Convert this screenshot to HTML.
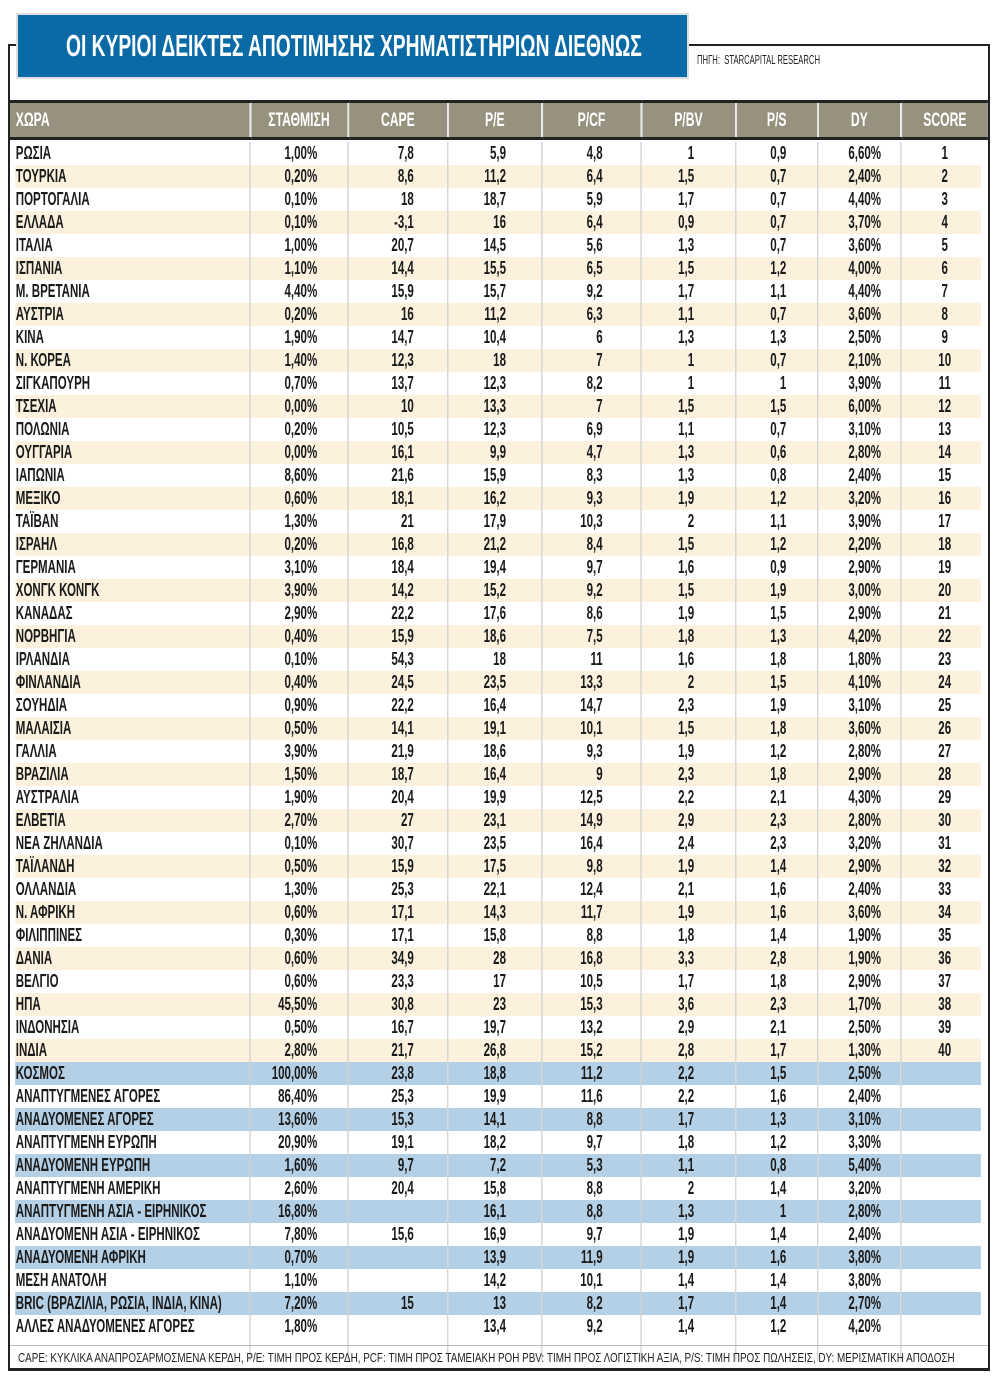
<!DOCTYPE html>
<html><head><meta charset="utf-8"><style>
*{margin:0;padding:0;box-sizing:border-box}
body{width:1000px;height:1381px;background:#fff;position:relative;overflow:hidden;font-family:"Liberation Sans",sans-serif;font-weight:bold;color:#1a1a1a}
.frame{position:absolute;left:8px;top:44px;width:982px;height:1327px;border:2px solid #222;border-bottom:3px solid #222}
.title{position:absolute;left:16px;top:13px;width:673px;height:66px;background:#0a6aa6;border:2px solid #ddd;color:#fff;font-size:31px;line-height:62px;padding-left:48px;white-space:nowrap;overflow:hidden}
.title span{display:inline-block;transform:scaleX(0.62);transform-origin:0 50%}
.src{position:absolute;left:697px;top:52px;font-size:13px;font-weight:normal;color:#222;white-space:nowrap;transform:scaleX(0.59);transform-origin:0 0}
table{position:absolute;left:10px;top:100px;border-collapse:collapse;table-layout:fixed;width:1528px;transform:scaleX(0.64);transform-origin:0 0}
td{height:23px;font-size:18px;text-align:right;border-left:2px solid #d0d0d0;line-height:23px;white-space:nowrap;overflow:hidden}
td:first-child{border-left:none;text-align:left;padding-left:9px}
tr.h td{height:37px;background:#97927f;color:#fff;border-left:3px solid #e6e6e6;text-align:center;font-size:19px;border-top:3px solid #222;border-bottom:3px solid #222}
tr.h td:first-child{border-left:none;text-align:left}
td.c1{padding-right:47px}td.c2{padding-right:52px}td.c3{padding-right:55px}td.c4{padding-right:59px}td.c5{padding-right:64px}td.c6{padding-right:48px}td.c7{padding-right:30px}td.c8{text-align:center;padding-left:0}
tr.y td{background:#fcf1dc}
tr.b td{background:#b4d0e6}
tr.y td:first-child,tr.b td:first-child{box-shadow:inset 8px 0 0 #fff}
tr.y td:last-child,tr.b td:last-child{box-shadow:inset -11px 0 0 #fff}
.foot{position:absolute;left:10px;top:1345px;width:978px;border-top:1px solid #bbb;font-size:13px;font-weight:normal;padding-top:4px;color:#222;white-space:nowrap}
.foot span{display:inline-block;margin-left:8px;transform:scaleX(0.76);transform-origin:0 0}
</style></head><body>
<div class="frame"></div>
<div class="title"><span>ΟΙ ΚΥΡΙΟΙ ΔΕΙΚΤΕΣ ΑΠΟΤΙΜΗΣΗΣ ΧΡΗΜΑΤΙΣΤΗΡΙΩΝ ΔΙΕΘΝΩΣ</span></div>
<div class="src">ΠΗΓΗ:&nbsp; STARCAPITAL RESEARCH</div>
<table>
<colgroup><col style="width:375px"><col style="width:153px"><col style="width:156px"><col style="width:147px"><col style="width:155px"><col style="width:148px"><col style="width:128px"><col style="width:130px"><col style="width:136px"></colgroup>
<tr class="h"><td>ΧΩΡΑ</td><td>ΣΤΑΘΜΙΣΗ</td><td>CAPE</td><td>P/E</td><td>P/CF</td><td>P/BV</td><td>P/S</td><td>DY</td><td>SCORE</td></tr>
<tr style="height:3px"><td colspan="9" style="height:3px;border:none"></td></tr>
<tr><td>ΡΩΣΙΑ</td><td class="c1">1,00%</td><td class="c2">7,8</td><td class="c3">5,9</td><td class="c4">4,8</td><td class="c5">1</td><td class="c6">0,9</td><td class="c7">6,60%</td><td class="c8">1</td></tr>
<tr class="y"><td>ΤΟΥΡΚΙΑ</td><td class="c1">0,20%</td><td class="c2">8,6</td><td class="c3">11,2</td><td class="c4">6,4</td><td class="c5">1,5</td><td class="c6">0,7</td><td class="c7">2,40%</td><td class="c8">2</td></tr>
<tr><td>ΠΟΡΤΟΓΑΛΙΑ</td><td class="c1">0,10%</td><td class="c2">18</td><td class="c3">18,7</td><td class="c4">5,9</td><td class="c5">1,7</td><td class="c6">0,7</td><td class="c7">4,40%</td><td class="c8">3</td></tr>
<tr class="y"><td>ΕΛΛΑΔΑ</td><td class="c1">0,10%</td><td class="c2">-3,1</td><td class="c3">16</td><td class="c4">6,4</td><td class="c5">0,9</td><td class="c6">0,7</td><td class="c7">3,70%</td><td class="c8">4</td></tr>
<tr><td>ΙΤΑΛΙΑ</td><td class="c1">1,00%</td><td class="c2">20,7</td><td class="c3">14,5</td><td class="c4">5,6</td><td class="c5">1,3</td><td class="c6">0,7</td><td class="c7">3,60%</td><td class="c8">5</td></tr>
<tr class="y"><td>ΙΣΠΑΝΙΑ</td><td class="c1">1,10%</td><td class="c2">14,4</td><td class="c3">15,5</td><td class="c4">6,5</td><td class="c5">1,5</td><td class="c6">1,2</td><td class="c7">4,00%</td><td class="c8">6</td></tr>
<tr><td>Μ. ΒΡΕΤΑΝΙΑ</td><td class="c1">4,40%</td><td class="c2">15,9</td><td class="c3">15,7</td><td class="c4">9,2</td><td class="c5">1,7</td><td class="c6">1,1</td><td class="c7">4,40%</td><td class="c8">7</td></tr>
<tr class="y"><td>ΑΥΣΤΡΙΑ</td><td class="c1">0,20%</td><td class="c2">16</td><td class="c3">11,2</td><td class="c4">6,3</td><td class="c5">1,1</td><td class="c6">0,7</td><td class="c7">3,60%</td><td class="c8">8</td></tr>
<tr><td>ΚΙΝΑ</td><td class="c1">1,90%</td><td class="c2">14,7</td><td class="c3">10,4</td><td class="c4">6</td><td class="c5">1,3</td><td class="c6">1,3</td><td class="c7">2,50%</td><td class="c8">9</td></tr>
<tr class="y"><td>Ν. ΚΟΡΕΑ</td><td class="c1">1,40%</td><td class="c2">12,3</td><td class="c3">18</td><td class="c4">7</td><td class="c5">1</td><td class="c6">0,7</td><td class="c7">2,10%</td><td class="c8">10</td></tr>
<tr><td>ΣΙΓΚΑΠΟΥΡΗ</td><td class="c1">0,70%</td><td class="c2">13,7</td><td class="c3">12,3</td><td class="c4">8,2</td><td class="c5">1</td><td class="c6">1</td><td class="c7">3,90%</td><td class="c8">11</td></tr>
<tr class="y"><td>ΤΣΕΧΙΑ</td><td class="c1">0,00%</td><td class="c2">10</td><td class="c3">13,3</td><td class="c4">7</td><td class="c5">1,5</td><td class="c6">1,5</td><td class="c7">6,00%</td><td class="c8">12</td></tr>
<tr><td>ΠΟΛΩΝΙΑ</td><td class="c1">0,20%</td><td class="c2">10,5</td><td class="c3">12,3</td><td class="c4">6,9</td><td class="c5">1,1</td><td class="c6">0,7</td><td class="c7">3,10%</td><td class="c8">13</td></tr>
<tr class="y"><td>ΟΥΓΓΑΡΙΑ</td><td class="c1">0,00%</td><td class="c2">16,1</td><td class="c3">9,9</td><td class="c4">4,7</td><td class="c5">1,3</td><td class="c6">0,6</td><td class="c7">2,80%</td><td class="c8">14</td></tr>
<tr><td>ΙΑΠΩΝΙΑ</td><td class="c1">8,60%</td><td class="c2">21,6</td><td class="c3">15,9</td><td class="c4">8,3</td><td class="c5">1,3</td><td class="c6">0,8</td><td class="c7">2,40%</td><td class="c8">15</td></tr>
<tr class="y"><td>ΜΕΞΙΚΟ</td><td class="c1">0,60%</td><td class="c2">18,1</td><td class="c3">16,2</td><td class="c4">9,3</td><td class="c5">1,9</td><td class="c6">1,2</td><td class="c7">3,20%</td><td class="c8">16</td></tr>
<tr><td>ΤΑΪΒΑΝ</td><td class="c1">1,30%</td><td class="c2">21</td><td class="c3">17,9</td><td class="c4">10,3</td><td class="c5">2</td><td class="c6">1,1</td><td class="c7">3,90%</td><td class="c8">17</td></tr>
<tr class="y"><td>ΙΣΡΑΗΛ</td><td class="c1">0,20%</td><td class="c2">16,8</td><td class="c3">21,2</td><td class="c4">8,4</td><td class="c5">1,5</td><td class="c6">1,2</td><td class="c7">2,20%</td><td class="c8">18</td></tr>
<tr><td>ΓΕΡΜΑΝΙΑ</td><td class="c1">3,10%</td><td class="c2">18,4</td><td class="c3">19,4</td><td class="c4">9,7</td><td class="c5">1,6</td><td class="c6">0,9</td><td class="c7">2,90%</td><td class="c8">19</td></tr>
<tr class="y"><td>ΧΟΝΓΚ ΚΟΝΓΚ</td><td class="c1">3,90%</td><td class="c2">14,2</td><td class="c3">15,2</td><td class="c4">9,2</td><td class="c5">1,5</td><td class="c6">1,9</td><td class="c7">3,00%</td><td class="c8">20</td></tr>
<tr><td>ΚΑΝΑΔΑΣ</td><td class="c1">2,90%</td><td class="c2">22,2</td><td class="c3">17,6</td><td class="c4">8,6</td><td class="c5">1,9</td><td class="c6">1,5</td><td class="c7">2,90%</td><td class="c8">21</td></tr>
<tr class="y"><td>ΝΟΡΒΗΓΙΑ</td><td class="c1">0,40%</td><td class="c2">15,9</td><td class="c3">18,6</td><td class="c4">7,5</td><td class="c5">1,8</td><td class="c6">1,3</td><td class="c7">4,20%</td><td class="c8">22</td></tr>
<tr><td>ΙΡΛΑΝΔΙΑ</td><td class="c1">0,10%</td><td class="c2">54,3</td><td class="c3">18</td><td class="c4">11</td><td class="c5">1,6</td><td class="c6">1,8</td><td class="c7">1,80%</td><td class="c8">23</td></tr>
<tr class="y"><td>ΦΙΝΛΑΝΔΙΑ</td><td class="c1">0,40%</td><td class="c2">24,5</td><td class="c3">23,5</td><td class="c4">13,3</td><td class="c5">2</td><td class="c6">1,5</td><td class="c7">4,10%</td><td class="c8">24</td></tr>
<tr><td>ΣΟΥΗΔΙΑ</td><td class="c1">0,90%</td><td class="c2">22,2</td><td class="c3">16,4</td><td class="c4">14,7</td><td class="c5">2,3</td><td class="c6">1,9</td><td class="c7">3,10%</td><td class="c8">25</td></tr>
<tr class="y"><td>ΜΑΛΑΙΣΙΑ</td><td class="c1">0,50%</td><td class="c2">14,1</td><td class="c3">19,1</td><td class="c4">10,1</td><td class="c5">1,5</td><td class="c6">1,8</td><td class="c7">3,60%</td><td class="c8">26</td></tr>
<tr><td>ΓΑΛΛΙΑ</td><td class="c1">3,90%</td><td class="c2">21,9</td><td class="c3">18,6</td><td class="c4">9,3</td><td class="c5">1,9</td><td class="c6">1,2</td><td class="c7">2,80%</td><td class="c8">27</td></tr>
<tr class="y"><td>ΒΡΑΖΙΛΙΑ</td><td class="c1">1,50%</td><td class="c2">18,7</td><td class="c3">16,4</td><td class="c4">9</td><td class="c5">2,3</td><td class="c6">1,8</td><td class="c7">2,90%</td><td class="c8">28</td></tr>
<tr><td>ΑΥΣΤΡΑΛΙΑ</td><td class="c1">1,90%</td><td class="c2">20,4</td><td class="c3">19,9</td><td class="c4">12,5</td><td class="c5">2,2</td><td class="c6">2,1</td><td class="c7">4,30%</td><td class="c8">29</td></tr>
<tr class="y"><td>ΕΛΒΕΤΙΑ</td><td class="c1">2,70%</td><td class="c2">27</td><td class="c3">23,1</td><td class="c4">14,9</td><td class="c5">2,9</td><td class="c6">2,3</td><td class="c7">2,80%</td><td class="c8">30</td></tr>
<tr><td>ΝΕΑ ΖΗΛΑΝΔΙΑ</td><td class="c1">0,10%</td><td class="c2">30,7</td><td class="c3">23,5</td><td class="c4">16,4</td><td class="c5">2,4</td><td class="c6">2,3</td><td class="c7">3,20%</td><td class="c8">31</td></tr>
<tr class="y"><td>ΤΑΪΛΑΝΔΗ</td><td class="c1">0,50%</td><td class="c2">15,9</td><td class="c3">17,5</td><td class="c4">9,8</td><td class="c5">1,9</td><td class="c6">1,4</td><td class="c7">2,90%</td><td class="c8">32</td></tr>
<tr><td>ΟΛΛΑΝΔΙΑ</td><td class="c1">1,30%</td><td class="c2">25,3</td><td class="c3">22,1</td><td class="c4">12,4</td><td class="c5">2,1</td><td class="c6">1,6</td><td class="c7">2,40%</td><td class="c8">33</td></tr>
<tr class="y"><td>Ν. ΑΦΡΙΚΗ</td><td class="c1">0,60%</td><td class="c2">17,1</td><td class="c3">14,3</td><td class="c4">11,7</td><td class="c5">1,9</td><td class="c6">1,6</td><td class="c7">3,60%</td><td class="c8">34</td></tr>
<tr><td>ΦΙΛΙΠΠΙΝΕΣ</td><td class="c1">0,30%</td><td class="c2">17,1</td><td class="c3">15,8</td><td class="c4">8,8</td><td class="c5">1,8</td><td class="c6">1,4</td><td class="c7">1,90%</td><td class="c8">35</td></tr>
<tr class="y"><td>ΔΑΝΙΑ</td><td class="c1">0,60%</td><td class="c2">34,9</td><td class="c3">28</td><td class="c4">16,8</td><td class="c5">3,3</td><td class="c6">2,8</td><td class="c7">1,90%</td><td class="c8">36</td></tr>
<tr><td>ΒΕΛΓΙΟ</td><td class="c1">0,60%</td><td class="c2">23,3</td><td class="c3">17</td><td class="c4">10,5</td><td class="c5">1,7</td><td class="c6">1,8</td><td class="c7">2,90%</td><td class="c8">37</td></tr>
<tr class="y"><td>ΗΠΑ</td><td class="c1">45,50%</td><td class="c2">30,8</td><td class="c3">23</td><td class="c4">15,3</td><td class="c5">3,6</td><td class="c6">2,3</td><td class="c7">1,70%</td><td class="c8">38</td></tr>
<tr><td>ΙΝΔΟΝΗΣΙΑ</td><td class="c1">0,50%</td><td class="c2">16,7</td><td class="c3">19,7</td><td class="c4">13,2</td><td class="c5">2,9</td><td class="c6">2,1</td><td class="c7">2,50%</td><td class="c8">39</td></tr>
<tr class="y"><td>ΙΝΔΙΑ</td><td class="c1">2,80%</td><td class="c2">21,7</td><td class="c3">26,8</td><td class="c4">15,2</td><td class="c5">2,8</td><td class="c6">1,7</td><td class="c7">1,30%</td><td class="c8">40</td></tr>
<tr class="b"><td>ΚΟΣΜΟΣ</td><td class="c1">100,00%</td><td class="c2">23,8</td><td class="c3">18,8</td><td class="c4">11,2</td><td class="c5">2,2</td><td class="c6">1,5</td><td class="c7">2,50%</td><td class="c8"></td></tr>
<tr><td>ΑΝΑΠΤΥΓΜΕΝΕΣ ΑΓΟΡΕΣ</td><td class="c1">86,40%</td><td class="c2">25,3</td><td class="c3">19,9</td><td class="c4">11,6</td><td class="c5">2,2</td><td class="c6">1,6</td><td class="c7">2,40%</td><td class="c8"></td></tr>
<tr class="b"><td>ΑΝΑΔΥΟΜΕΝΕΣ ΑΓΟΡΕΣ</td><td class="c1">13,60%</td><td class="c2">15,3</td><td class="c3">14,1</td><td class="c4">8,8</td><td class="c5">1,7</td><td class="c6">1,3</td><td class="c7">3,10%</td><td class="c8"></td></tr>
<tr><td>ΑΝΑΠΤΥΓΜΕΝΗ ΕΥΡΩΠΗ</td><td class="c1">20,90%</td><td class="c2">19,1</td><td class="c3">18,2</td><td class="c4">9,7</td><td class="c5">1,8</td><td class="c6">1,2</td><td class="c7">3,30%</td><td class="c8"></td></tr>
<tr class="b"><td>ΑΝΑΔΥΟΜΕΝΗ ΕΥΡΩΠΗ</td><td class="c1">1,60%</td><td class="c2">9,7</td><td class="c3">7,2</td><td class="c4">5,3</td><td class="c5">1,1</td><td class="c6">0,8</td><td class="c7">5,40%</td><td class="c8"></td></tr>
<tr><td>ΑΝΑΠΤΥΓΜΕΝΗ ΑΜΕΡΙΚΗ</td><td class="c1">2,60%</td><td class="c2">20,4</td><td class="c3">15,8</td><td class="c4">8,8</td><td class="c5">2</td><td class="c6">1,4</td><td class="c7">3,20%</td><td class="c8"></td></tr>
<tr class="b"><td>ΑΝΑΠΤΥΓΜΕΝΗ ΑΣΙΑ - ΕΙΡΗΝΙΚΟΣ</td><td class="c1">16,80%</td><td class="c2"></td><td class="c3">16,1</td><td class="c4">8,8</td><td class="c5">1,3</td><td class="c6">1</td><td class="c7">2,80%</td><td class="c8"></td></tr>
<tr><td>ΑΝΑΔΥΟΜΕΝΗ ΑΣΙΑ - ΕΙΡΗΝΙΚΟΣ</td><td class="c1">7,80%</td><td class="c2">15,6</td><td class="c3">16,9</td><td class="c4">9,7</td><td class="c5">1,9</td><td class="c6">1,4</td><td class="c7">2,40%</td><td class="c8"></td></tr>
<tr class="b"><td>ΑΝΑΔΥΟΜΕΝΗ ΑΦΡΙΚΗ</td><td class="c1">0,70%</td><td class="c2"></td><td class="c3">13,9</td><td class="c4">11,9</td><td class="c5">1,9</td><td class="c6">1,6</td><td class="c7">3,80%</td><td class="c8"></td></tr>
<tr><td>ΜΕΣΗ ΑΝΑΤΟΛΗ</td><td class="c1">1,10%</td><td class="c2"></td><td class="c3">14,2</td><td class="c4">10,1</td><td class="c5">1,4</td><td class="c6">1,4</td><td class="c7">3,80%</td><td class="c8"></td></tr>
<tr class="b"><td>BRIC (ΒΡΑΖΙΛΙΑ, ΡΩΣΙΑ, ΙΝΔΙΑ, ΚΙΝΑ)</td><td class="c1">7,20%</td><td class="c2">15</td><td class="c3">13</td><td class="c4">8,2</td><td class="c5">1,7</td><td class="c6">1,4</td><td class="c7">2,70%</td><td class="c8"></td></tr>
<tr><td>ΑΛΛΕΣ ΑΝΑΔΥΟΜΕΝΕΣ ΑΓΟΡΕΣ</td><td class="c1">1,80%</td><td class="c2"></td><td class="c3">13,4</td><td class="c4">9,2</td><td class="c5">1,4</td><td class="c6">1,2</td><td class="c7">4,20%</td><td class="c8"></td></tr>
<tr><td style="height:10px"></td><td style="height:10px"></td><td></td><td></td><td></td><td></td><td></td><td></td><td></td></tr>
</table>
<div class="foot"><span>CAPE: ΚΥΚΛΙΚΑ ΑΝΑΠΡΟΣΑΡΜΟΣΜΕΝΑ ΚΕΡΔΗ, P/E: ΤΙΜΗ ΠΡΟΣ ΚΕΡΔΗ, PCF: ΤΙΜΗ ΠΡΟΣ ΤΑΜΕΙΑΚΗ ΡΟΗ PBV: ΤΙΜΗ ΠΡΟΣ ΛΟΓΙΣΤΙΚΗ ΑΞΙΑ, P/S: ΤΙΜΗ ΠΡΟΣ ΠΩΛΗΣΕΙΣ, DY: ΜΕΡΙΣΜΑΤΙΚΗ ΑΠΟΔΟΣΗ</span></div>
</body></html>
